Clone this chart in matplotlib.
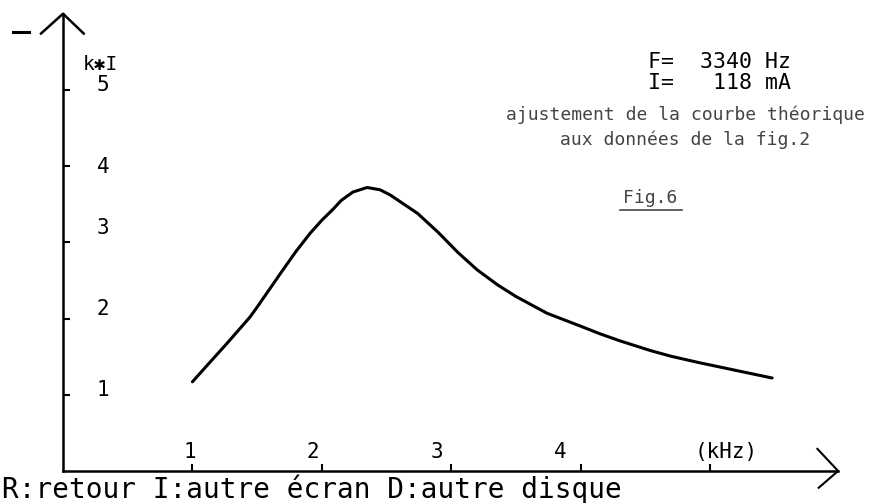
import numpy as np
from matplotlib import pyplot as plt

freq_khz = [1.00, 1.10, 1.27, 1.445, 1.50, 1.70, 1.80, 1.91, 2.00, 2.09, 2.15,
            2.24, 2.35, 2.45, 2.53, 2.60, 2.74, 2.90, 3.05, 3.20, 3.36, 3.50,
            3.74, 4.00, 4.15, 4.30, 4.54, 4.70, 4.92, 5.20, 5.48]
k_times_i = [1.17, 1.36, 1.68, 2.02, 2.15, 2.64, 2.88, 3.12, 3.29, 3.44, 3.55,
             3.66, 3.72, 3.69, 3.62, 3.54, 3.38, 3.13, 2.87, 2.64, 2.44, 2.29,
             2.07, 1.90, 1.80, 1.71, 1.58, 1.505, 1.42, 1.32, 1.22]

x_ticks = [1, 2, 3, 4, 5]
x_labels = ['1', '2', '3', '4', '(kHz)']
y_ticks = [1, 2, 3, 4, 5]
y_labels = ['1', '2', '3', '4', '5']

screen = ['DejaVu Sans Mono', 'DejaVu Sans']

fig = plt.figure(figsize=(8.86, 5.03), dpi=100)
ax = fig.add_axes([0, 0, 1, 1])
ax.set_xlim(-0.487, 6.36)
ax.set_ylim(-0.42, 6.18)

# axes du repère
for s in ['top', 'right']:
    ax.spines[s].set_visible(False)
ax.spines['left'].set_position(('data', 0))
ax.spines['bottom'].set_position(('data', 0))
ax.spines['left'].set_bounds(0, 6.0)
ax.spines['bottom'].set_bounds(0, 5.99)
ax.spines['left'].set_linewidth(1.8)
ax.spines['bottom'].set_linewidth(1.8)
ax.set_xticks(x_ticks)
ax.set_yticks(y_ticks)
ax.tick_params(direction='in', length=5, width=1.5, labelbottom=False, labelleft=False)

# flèches
ax.plot([-0.17, 0.0, 0.16], [5.74, 6.0, 5.74], color='black', lw=1.8, clip_on=False)
ax.plot([5.83, 5.99, 5.84], [0.29, 0.0, -0.22], color='black', lw=1.5, clip_on=False)
ax.plot([-0.39, -0.26], [5.76, 5.76], color='black', lw=2.2)

# courbe
ax.plot(freq_khz, k_times_i, color='black', lw=2.2, solid_capstyle='round',
        solid_joinstyle='round')

# graduations
x_lab_pos = [0.981 + i * 0.953 for i in range(4)] + [5.125]
for xp, lab in zip(x_lab_pos, x_labels):
    ax.text(xp, 0.25, lab, family=screen, fontsize=15, ha='center', va='center')
y_lab_pos = [1.06, 2.12, 3.19, 3.99, 5.07]
for yp, lab in zip(y_lab_pos, y_labels):
    ax.text(0.31, yp, lab, family=screen, fontsize=15, ha='center', va='center')
ax.text(0.29, 5.34, 'k\u2731I', family=screen, fontsize=14, ha='center', va='center')

# textes
ax.text(5.07, 5.37, 'F=  3340 Hz', family=screen, fontsize=15.5, ha='center', va='center')
ax.text(5.07, 5.09, 'I=   118 mA', family=screen, fontsize=15.5, ha='center', va='center')
ax.text(4.81, 4.67, 'ajustement de la courbe théorique', family=screen, fontsize=13,
        color='#444444', ha='center', va='center')
ax.text(4.81, 4.34, 'aux données de la fig.2', family=screen, fontsize=13,
        color='#444444', ha='center', va='center')
ax.text(4.54, 3.58, 'Fig.6', family=screen, fontsize=13, color='#444444',
        ha='center', va='center')
ax.plot([4.305, 4.785], [3.425, 3.425], color='#444444', lw=1.2)

ax.text(-0.47, -0.24, 'R:retour I:autre écran D:autre disque', family=screen,
        fontsize=20, ha='left', va='center')

fig.savefig('out.png', dpi=100)
